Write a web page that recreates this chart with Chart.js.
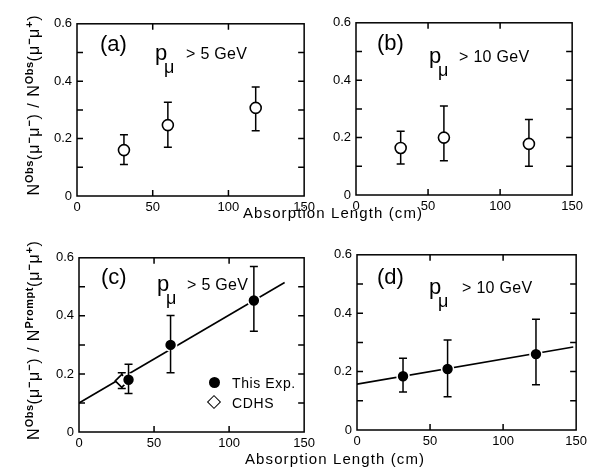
<!DOCTYPE html>
<html>
<head>
<meta charset="utf-8">
<script src="https://cdn.jsdelivr.net/npm/chart.js@4.4.1/dist/chart.umd.min.js"></script>
<style>
  body { margin: 0; background: #fff; width: 604px; height: 473px; position: relative; overflow: hidden;
         font-family: "Liberation Sans", Arial, sans-serif; color: #000; }
  canvas { position: absolute; }
  .t { position: absolute; white-space: nowrap; line-height: 1; }
  .big { font-size: 22px; }
  .mu { font-size: 18px; }
  .gt { font-size: 16px; letter-spacing: 0.3px; }
  .yt { position: absolute; width: 240px; height: 22px; text-align: center; font-size: 16px; line-height: 22px;
        letter-spacing: 1px; transform: rotate(-90deg); white-space: nowrap; }
  .yt sup { font-size: 11px; font-weight: bold; letter-spacing: 0.5px; }
  .xt { position: absolute; font-size: 15px; letter-spacing: 1.1px; white-space: nowrap; line-height: 1; }
  .lg { position: absolute; font-size: 14px; letter-spacing: 0.6px; white-space: nowrap; line-height: 1; }
  .dot { position: absolute; width: 11px; height: 11px; border-radius: 50%; background: #000; }
  .dia { position: absolute; width: 8px; height: 8px; border: 1.6px solid #000; background: #fff; transform: rotate(45deg); }
</style>
</head>
<body>
<canvas id="panelA"></canvas>
<canvas id="panelB"></canvas>
<canvas id="panelC"></canvas>
<canvas id="panelD"></canvas>

<!-- axis titles -->
<div class="yt" style="left:-91px;top:94px">N<sup>Obs</sup>(μ<sup>−</sup>μ<sup>−</sup>) / N<sup>Obs</sup>(μ<sup>−</sup>μ<sup>+</sup>)</div>
<div class="yt" style="left:-91px;top:329px">N<sup>Obs</sup>(μ<sup>−</sup>μ<sup>−</sup>) / N<sup>Prompt</sup>(μ<sup>−</sup>μ<sup>+</sup>)</div>
<div class="xt" style="left:243px;top:205px">Absorption Length (cm)</div>
<div class="xt" style="left:245px;top:451px">Absorption Length (cm)</div>

<!-- panel labels -->
<div class="t big" style="left:100px;top:33px">(a)</div>
<div class="t big" style="left:155px;top:42px">p</div>
<div class="t mu" style="left:164px;top:58px">μ</div>
<div class="t gt" style="left:186px;top:46px">&gt; 5 GeV</div>

<div class="t big" style="left:377px;top:32px">(b)</div>
<div class="t big" style="left:429px;top:45px">p</div>
<div class="t mu" style="left:438px;top:61px">μ</div>
<div class="t gt" style="left:459px;top:49px">&gt; 10 GeV</div>

<div class="t big" style="left:101px;top:266px">(c)</div>
<div class="t big" style="left:157px;top:273px">p</div>
<div class="t mu" style="left:166px;top:289px">μ</div>
<div class="t gt" style="left:187px;top:277px">&gt; 5 GeV</div>

<div class="t big" style="left:377px;top:266px">(d)</div>
<div class="t big" style="left:429px;top:276px">p</div>
<div class="t mu" style="left:438px;top:292px">μ</div>
<div class="t gt" style="left:462px;top:280px">&gt; 10 GeV</div>

<!-- legend of panel c -->
<div class="dot" style="left:209px;top:377px"></div>
<div class="lg" style="left:232px;top:376px">This Exp.</div>
<div class="dia" style="left:209px;top:397px"></div>
<div class="lg" style="left:232px;top:396px">CDHS</div>

<script>
// (a) open circles, N^Obs / N^Obs, p > 5 GeV
const absA = [31, 60, 118];
const ratioA = [0.16, 0.247, 0.307];
const lowA = [0.11, 0.17, 0.227];
const highA = [0.213, 0.327, 0.38];

// (b) p > 10 GeV
const absB = [31, 61, 120];
const ratioB = [0.164, 0.2, 0.178];
const lowB = [0.108, 0.119, 0.1];
const highB = [0.222, 0.31, 0.263];

// (c) filled circles, N^Obs / N^Prompt, p > 5 GeV
const absC = [33, 61, 116.5];
const ratioC = [0.18, 0.3, 0.453];
const lowC = [0.133, 0.204, 0.347];
const highC = [0.233, 0.401, 0.57];
const cdhsX = [28.5];
const cdhsY = [0.176];
const cdhsLow = [0.15];
const cdhsHigh = [0.204];
const fitXC = [0, 137];
const fitYC = [0.1, 0.515];

// (d) p > 10 GeV
const absD = [31.5, 62, 122.5];
const ratioD = [0.184, 0.209, 0.26];
const lowD = [0.13, 0.114, 0.155];
const highD = [0.246, 0.308, 0.379];
const fitXD = [0, 148];
const fitYD = [0.157, 0.284];

const xTicks = [0, 50, 100, 150];
const yTicks = [0, 0.2, 0.4, 0.6];
const xMinor = [50, 100];
const yMinor = [0.1, 0.2, 0.3, 0.4, 0.5];

const pts = (xs, ys) => xs.map((x, i) => ({ x: x, y: ys[i] }));

// box, inward ticks and error bars
const framePlugin = {
  id: 'frame',
  beforeDatasetsDraw(chart, args, opts) { drawBars(chart, opts.bars.filter(b => !b.over)); },
  afterDatasetsDraw(chart, args, opts) { drawBars(chart, opts.bars.filter(b => b.over)); },
  afterDraw(chart) {
    const c = chart.ctx, a = chart.chartArea, sx = chart.scales.x, sy = chart.scales.y;
    c.save();
    c.strokeStyle = '#000';
    c.lineWidth = 1.5;
    c.strokeRect(a.left, a.top, a.right - a.left, a.bottom - a.top);
    c.beginPath();
    xMinor.forEach(v => {
      const px = sx.getPixelForValue(v);
      c.moveTo(px, a.bottom); c.lineTo(px, a.bottom - 6);
      c.moveTo(px, a.top); c.lineTo(px, a.top + 6);
    });
    yMinor.forEach(v => {
      const py = sy.getPixelForValue(v);
      c.moveTo(a.left, py); c.lineTo(a.left + 6, py);
      c.moveTo(a.right, py); c.lineTo(a.right - 6, py);
    });
    c.stroke();
    c.restore();
  }
};

function drawBars(chart, bars) {
  const c = chart.ctx, sx = chart.scales.x, sy = chart.scales.y;
  c.save();
  c.strokeStyle = '#000';
  c.lineWidth = 1.5;
  bars.forEach(b => {
    b.x.forEach((x, i) => {
      const px = sx.getPixelForValue(x);
      const y1 = sy.getPixelForValue(b.lo[i]), y2 = sy.getPixelForValue(b.hi[i]);
      c.beginPath();
      c.moveTo(px, y1); c.lineTo(px, y2);
      c.moveTo(px - 4, y1); c.lineTo(px + 4, y1);
      c.moveTo(px - 4, y2); c.lineTo(px + 4, y2);
      c.stroke();
    });
  });
  c.restore();
}

function makePanel(id, box, datasets, bars) {
  const yw = 34, xh = 24, pad = 4;
  const cv = document.getElementById(id);
  const L = box.l - pad - yw, T = box.t - pad;
  const W = box.r + pad - L, H = box.b + xh + pad - T;
  cv.width = W; cv.height = H;
  cv.style.left = L + 'px'; cv.style.top = T + 'px';
  cv.style.width = W + 'px'; cv.style.height = H + 'px';
  const tickFont = { family: '"Liberation Sans", Arial, sans-serif', size: 13 };
  return new Chart(cv, {
    type: 'scatter',
    data: { datasets: datasets },
    options: {
      responsive: false,
      animation: false,
      devicePixelRatio: 1,
      layout: { padding: pad },
      plugins: { legend: { display: false }, tooltip: { enabled: false }, frame: { bars: bars } },
      scales: {
        x: {
          type: 'linear', min: 0, max: 150,
          afterBuildTicks: s => { s.ticks = xTicks.map(v => ({ value: v })); },
          afterFit: s => { s.height = xh; },
          grid: { display: false, drawTicks: false },
          border: { display: false },
          ticks: { font: tickFont, color: '#000', padding: 4, maxRotation: 0 }
        },
        y: {
          type: 'linear', min: 0, max: 0.6,
          afterBuildTicks: s => { s.ticks = yTicks.map(v => ({ value: v })); },
          afterFit: s => { s.width = yw; },
          grid: { display: false, drawTicks: false },
          border: { display: false },
          ticks: { font: tickFont, color: '#000', padding: 5,
                   callback: v => v === 0 ? '0' : v.toFixed(1) }
        }
      }
    },
    plugins: [framePlugin]
  });
}

const openPts = {
  showLine: false, pointStyle: 'circle', pointRadius: 5.5, pointBorderWidth: 1.6,
  pointBackgroundColor: '#fff', pointBorderColor: '#000'
};
const filledPts = {
  showLine: false, pointStyle: 'circle', pointRadius: 6, pointBorderWidth: 1.6,
  pointBackgroundColor: '#000', pointBorderColor: '#fff'
};
const fitLine = {
  showLine: true, pointRadius: 0, borderColor: '#000', borderWidth: 1.6
};

makePanel('panelA', { l: 77, r: 315, t: 15, b: 196 },
  [Object.assign({ data: pts(absA, ratioA) }, openPts)],
  [{ x: absA, lo: lowA, hi: highA }]);

makePanel('panelB', { l: 356, r: 583, t: 14, b: 195 },
  [Object.assign({ data: pts(absB, ratioB) }, openPts)],
  [{ x: absB, lo: lowB, hi: highB }]);

makePanel('panelC', { l: 79, r: 315, t: 249, b: 432 },
  [Object.assign({ data: pts(absC, ratioC) }, filledPts),
   Object.assign({ data: pts(cdhsX, cdhsY) }, openPts, { pointStyle: 'rectRot', pointRadius: 6.5 }),
   Object.assign({ data: pts(fitXC, fitYC) }, fitLine)],
  [{ x: absC, lo: lowC, hi: highC, over: true }, { x: cdhsX, lo: cdhsLow, hi: cdhsHigh }]);

makePanel('panelD', { l: 357, r: 587, t: 246, b: 430 },
  [Object.assign({ data: pts(absD, ratioD) }, filledPts),
   Object.assign({ data: pts(fitXD, fitYD) }, fitLine)],
  [{ x: absD, lo: lowD, hi: highD, over: true }]);
</script>
</body>
</html>
